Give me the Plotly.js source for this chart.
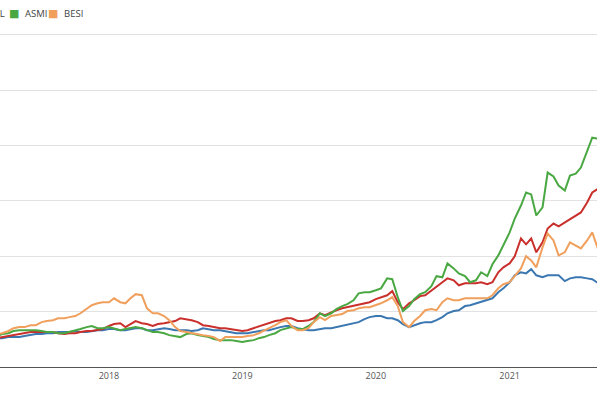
<!DOCTYPE html>
<html>
<head>
<meta charset="utf-8">
<script src="https://cdn.plot.ly/plotly-3.0.1.min.js"></script>
<style>
  html, body { margin: 0; padding: 0; background: #ffffff; overflow: hidden; }
  #chart { width: 597px; height: 398px; }
</style>
</head>
<body>
<div id="chart"></div>
<script>
// Semi-monthly observation dates
const dates = [
  '2017-02-15','2017-03-01','2017-03-15','2017-04-01','2017-04-15','2017-05-01','2017-05-15','2017-06-01','2017-06-15','2017-07-01',
  '2017-07-15','2017-08-01','2017-08-15','2017-09-01','2017-09-15','2017-10-01','2017-10-15','2017-11-01','2017-11-15','2017-12-01',
  '2017-12-15','2018-01-01','2018-01-15','2018-02-01','2018-02-15','2018-03-01','2018-03-15','2018-04-01','2018-04-15','2018-05-01',
  '2018-05-15','2018-06-01','2018-06-15','2018-07-01','2018-07-15','2018-08-01','2018-08-15','2018-09-01','2018-09-15','2018-10-01',
  '2018-10-15','2018-11-01','2018-11-15','2018-12-01','2018-12-15','2019-01-01','2019-01-15','2019-02-01','2019-02-15','2019-03-01',
  '2019-03-15','2019-04-01','2019-04-15','2019-05-01','2019-05-15','2019-06-01','2019-06-15','2019-07-01','2019-07-15','2019-08-01',
  '2019-08-15','2019-09-01','2019-09-15','2019-10-01','2019-10-15','2019-11-01','2019-11-15','2019-12-01','2019-12-15','2020-01-01',
  '2020-01-15','2020-02-01','2020-02-15','2020-03-01','2020-03-15','2020-04-01','2020-04-15','2020-05-01','2020-05-15','2020-06-01',
  '2020-06-15','2020-07-01','2020-07-15','2020-08-01','2020-08-15','2020-09-01','2020-09-15','2020-10-01','2020-10-15','2020-11-01',
  '2020-11-15','2020-12-01','2020-12-15','2021-01-01','2021-01-15','2021-02-01','2021-02-15','2021-03-01','2021-03-15','2021-04-01',
  '2021-04-15','2021-05-01','2021-05-15','2021-06-01','2021-06-15','2021-07-01','2021-07-15','2021-08-01','2021-08-15','2021-09-01'
];

// Performance index values (start = 100)
const aex = [
  101,104,104,108,108,108,112,115,119,119,
  122,122,126,126,126,130,126,126,130,133,
  133,137,137,133,133,137,140,140,133,133,
  137,140,137,133,133,133,130,133,140,137,
  133,133,130,126,122,122,122,126,130,133,
  133,140,144,148,148,140,137,133,133,137,
  140,140,144,151,155,158,162,173,180,184,
  184,176,176,169,155,144,151,158,162,162,
  169,180,194,202,205,220,223,230,234,241,
  248,270,284,306,331,342,338,353,331,324,
  331,331,331,310,320,324,324,320,317,302
];
const asml = [
  101,104,108,112,115,119,122,126,126,126,
  126,126,122,119,122,122,126,130,130,133,
  137,148,155,158,144,155,166,158,155,148,
  155,158,162,166,176,173,169,162,151,148,
  144,140,140,137,133,130,133,140,148,151,
  158,166,169,176,176,166,166,169,176,194,
  187,198,205,212,216,223,227,230,234,245,
  252,259,274,234,209,230,241,256,259,277,
  292,306,320,313,295,302,302,302,306,299,
  306,342,360,374,400,464,443,464,414,450,
  500,518,508,522,536,547,558,594,630,644
];
const asmi = [
  104,112,119,122,130,133,133,133,133,130,
  126,126,122,122,126,133,137,144,148,140,
  140,144,140,133,137,140,144,140,133,126,
  126,122,115,112,108,119,122,115,112,108,
  101,97,97,97,94,90,94,97,104,108,
  115,122,133,140,144,137,137,148,162,194,
  184,194,209,220,227,241,266,270,270,277,
  284,320,317,252,202,220,245,263,270,292,
  328,324,374,356,338,328,306,313,342,328,
  371,403,439,486,536,583,630,623,547,576,
  702,688,655,637,691,698,720,781,828,824
];
const besi = [
  112,119,122,130,140,144,144,151,151,162,
  166,169,176,176,180,184,194,209,223,230,
  234,234,248,234,230,248,263,259,212,194,
  194,184,169,144,130,126,122,119,115,112,
  108,94,108,108,108,108,112,115,122,130,
  140,151,162,169,148,133,133,140,162,180,
  169,184,187,191,202,205,212,216,216,223,
  230,241,252,220,162,144,166,184,205,209,
  205,234,248,241,241,248,248,248,248,248,
  259,284,299,306,328,356,400,385,360,432,
  482,457,403,414,450,439,428,457,486,421
];

const seriesNames = ['AEX', 'ASML', 'ASMI', 'BESI'];
const seriesValues = [aex, asml, asmi, besi];
const seriesColors = ['#3b77b0', '#c9302c', '#4aa843', '#f0a05c'];

const traces = seriesNames.map((name, i) => ({
  type: 'scatter',
  mode: 'lines',
  name: name,
  x: dates,
  y: seriesValues[i],
  line: { color: seriesColors[i], width: 2 },
  showlegend: false
}));

// Legend row: the picture is cropped at the left, so only the tail of the
// second entry is visible; entries that fall fully off-canvas are not drawn.
const legendSwatchX = [null, -29, 13.5, 52.5];
const legendTextX = [null, -22, 22.5, 61.5];
const legendY = (367 - 13) / 349.5;
const annotations = [];
seriesNames.forEach((name, i) => {
  if (legendTextX[i] === null) return;
  annotations.push({
    xref: 'paper', yref: 'paper',
    x: legendSwatchX[i] / 597, y: legendY,
    xanchor: 'center', yanchor: 'middle',
    showarrow: false,
    text: '\u25A0',
    font: { family: 'DejaVu Sans, sans-serif', size: 11, color: seriesColors[i] }
  });
  annotations.push({
    xref: 'paper', yref: 'paper',
    x: legendTextX[i] / 597, y: legendY,
    xanchor: 'left', yanchor: 'middle',
    showarrow: false,
    text: name,
    font: { family: 'Open Sans, sans-serif', size: 9.5, color: '#444444' }
  });
});

const layout = {
  width: 597,
  height: 398,
  margin: { l: 0, r: 0, t: 17.5, b: 31, pad: 0, autoexpand: false },
  paper_bgcolor: '#ffffff',
  plot_bgcolor: '#ffffff',
  font: { family: 'Open Sans, sans-serif', size: 9, color: '#555555' },
  showlegend: false,
  xaxis: {
    type: 'date',
    range: ['2017-03-09', '2021-08-28'],
    showgrid: false,
    zeroline: false,
    showline: true,
    linecolor: '#555555',
    linewidth: 1,
    ticks: '',
    dtick: 'M12',
    tick0: '2018-01-01',
    tickformat: '%Y',
    tickfont: { family: 'Open Sans, sans-serif', size: 9, color: '#555555' }
  },
  yaxis: {
    range: [0, 1260],
    dtick: 200,
    tick0: 0,
    showticklabels: false,
    showgrid: true,
    gridcolor: '#e2e2e2',
    gridwidth: 1,
    zeroline: false,
    showline: false,
    ticks: ''
  },
  annotations: annotations
};

Plotly.newPlot('chart', traces, layout, { staticPlot: true, displayModeBar: false });
</script>
</body>
</html>
